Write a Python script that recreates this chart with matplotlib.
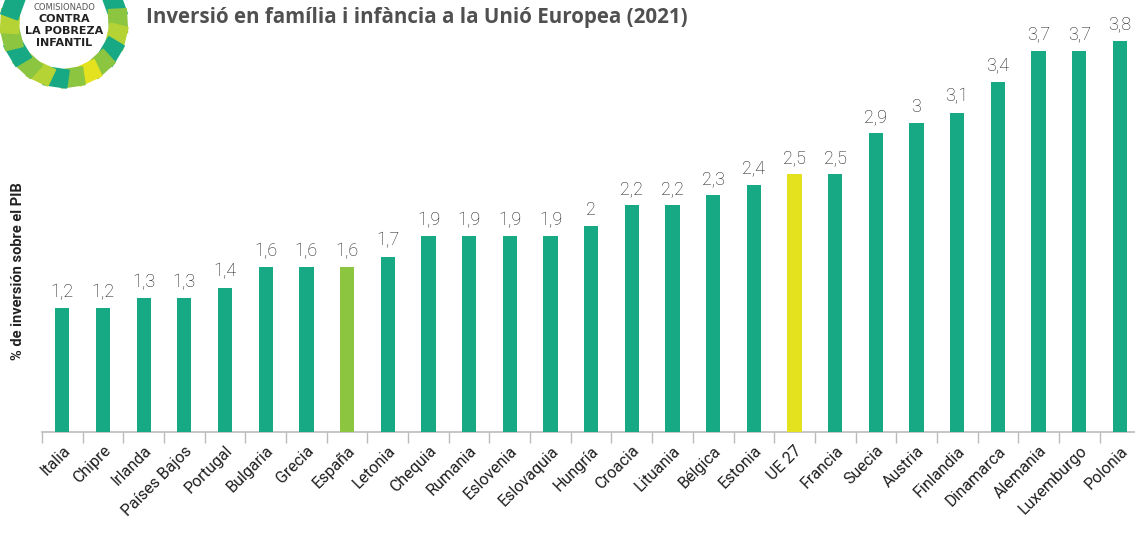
import matplotlib
matplotlib.use("Agg")
import matplotlib.pyplot as plt
from matplotlib.patches import Rectangle
import numpy as np

countries = ["Italia", "Chipre", "Irlanda", "Países Bajos", "Portugal", "Bulgaria",
             "Grecia", "España", "Letonia", "Chequia", "Rumania", "Eslovenia",
             "Eslovaquia", "Hungría", "Croacia", "Lituania", "Bélgica", "Estonia",
             "UE 27", "Francia", "Suecia", "Austria", "Finlandia", "Dinamarca",
             "Alemania", "Luxemburgo", "Polonia"]
values = [1.2, 1.2, 1.3, 1.3, 1.4, 1.6, 1.6, 1.6, 1.7, 1.9, 1.9, 1.9, 1.9, 2.0,
          2.2, 2.2, 2.3, 2.4, 2.5, 2.5, 2.9, 3.0, 3.1, 3.4, 3.7, 3.7, 3.8]

TEAL = "#17a984"
SPAIN = "#8cc540"
EU = "#e4e21f"
colors = [SPAIN if c == "España" else EU if c == "UE 27" else TEAL for c in countries]

W, H = 1135, 536
fig = plt.figure(figsize=(W / 100, H / 100), dpi=100)
ax = fig.add_axes([0.037, 0.194, 0.963, 0.806])
x = np.arange(len(countries))
ax.bar(x, values, width=0.35, color=colors, zorder=3)
ax.set_xlim(-0.5, 26.37)
ax.set_ylim(0, 4.194)

for xi, v in zip(x, values):
    lbl = ("%g" % v).replace(".", ",")
    ax.text(xi, v + 0.07, lbl, ha="center", va="bottom", fontsize=13,
            color="#1a1a1a", family="Roboto", fontweight="light")

for s in ["top", "right", "left"]:
    ax.spines[s].set_visible(False)
ax.spines["bottom"].set_color("#bbbbbb")
ax.spines["bottom"].set_linewidth(1.2)
ax.set_yticks([])
ax.set_xticks(np.arange(-0.5, 26.5, 1.0), minor=True)
ax.tick_params(axis="x", which="minor", length=8, color="#bbbbbb", width=1)
ax.set_xticks(x)
ax.tick_params(axis="x", which="major", length=0, pad=8)
ax.set_xticklabels(countries, rotation=45, ha="right", rotation_mode="anchor",
                   fontsize=11.5, color="#1e1e1e", family="Roboto")

fig.text(0.016, 0.495, "% de inversión sobre el PIB", rotation=90, ha="center",
         va="center", fontsize=10.5, fontweight="bold", color="#222222",
         family="Roboto")

fig.text(0.129, 0.968, "Inversió en família i infància a la Unió Europea (2021)",
         ha="left", va="center", fontsize=14.8, fontweight="bold", color="#505050",
         family="Open Sans")

# logo (decorative) in pixel coordinates
lax = fig.add_axes([0, 1 - 90 / H, 135 / W, 90 / H])
lax.set_xlim(0, 135)
lax.set_ylim(90, 0)
lax.axis("off")
ring_cols = ["#17a984", "#8cc540", "#b5d334", "#17a984", "#8cc540", "#e4e21f",
             "#8cc540", "#17a984", "#b5d334", "#8cc540", "#17a984", "#8cc540",
             "#b5d334", "#17a984"]
cxr, cyr, R = 64, 24, 54
for k, ang in enumerate(np.linspace(-20, 200, 14)):
    a = np.deg2rad(ang)
    px, py = cxr + R * np.cos(a), cyr + R * np.sin(a)
    lax.add_patch(Rectangle((px - 12, py - 9), 24, 18, angle=ang + 90,
                            rotation_point="center",
                            color=ring_cols[k % len(ring_cols)]))
lax.text(cxr, 7, "COMISIONADO", ha="center", va="center", fontsize=6, color="#555555")
lax.text(cxr, 19, "CONTRA", ha="center", va="center", fontsize=8, color="#222222",
         fontweight="bold")
lax.text(cxr, 31, "LA POBREZA", ha="center", va="center", fontsize=8, color="#222222",
         fontweight="bold")
lax.text(cxr, 43, "INFANTIL", ha="center", va="center", fontsize=8, color="#222222",
         fontweight="bold")

fig.savefig("out.png", dpi=100)
